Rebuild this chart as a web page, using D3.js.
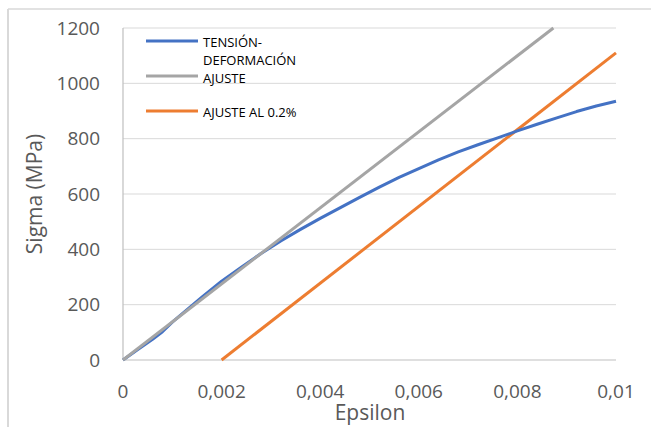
<!DOCTYPE html>
<html><head><meta charset="utf-8">
<script src="https://cdn.jsdelivr.net/npm/d3@7/dist/d3.min.js"></script>
<style>body{margin:0;background:#fff;}svg{display:block;font-family:"Open Sans",sans-serif;}</style>
</head><body><svg id="c" width="651" height="427"></svg>
<script>
const strainEps = [0,0.0003,0.0006,0.0008,0.001,0.0013,0.0016,0.002,0.0024,0.0028,0.0032,0.0036,0.004,0.0044,0.0048,0.0052,0.0056,0.006,0.0064,0.0068,0.0072,0.0076,0.008,0.0084,0.0088,0.0092,0.0096,0.01];
const strainSigma = [0,38,75,102,137,182,227,285,335,385,430,472,512,550,588,625,660,692,723,752,778,803,828,852,875,898,918,935];
const fitEps = [0,0.00873];
const fitSigma = [0,1200];
const offsetEps = [0.002,0.01];
const offsetSigma = [0,1110];
const seriesNames = ["TENSIÓN-\nDEFORMACIÓN","AJUSTE","AJUSTE AL 0.2%"];
const seriesColors = ["#4472C4","#A5A5A5","#ED7D31"];
const yTicks = [0,200,400,600,800,1000,1200];
const xTicks = [0,0.002,0.004,0.006,0.008,0.01];
const xTickLabels = ["0","0,002","0,004","0,006","0,008","0,01"];

const svg = d3.select("#c");
const L=123, R=616, T=28, B=360;
const x = d3.scaleLinear().domain([0,0.01]).range([L,R]);
const y = d3.scaleLinear().domain([0,1200]).range([B,T]);

// outer frame
svg.append("line").attr("x1",8).attr("x2",651).attr("y1",9).attr("y2",9).attr("stroke","#d9d9d9").attr("stroke-width",1.5);
svg.append("line").attr("x1",8).attr("x2",8).attr("y1",9).attr("y2",427).attr("stroke","#d9d9d9").attr("stroke-width",2);

// gridlines
svg.append("g").selectAll("line").data(yTicks.filter(d=>d>0)).join("line")
  .attr("x1",L).attr("x2",R).attr("y1",d=>y(d)).attr("y2",d=>y(d))
  .attr("stroke","#d9d9d9").attr("stroke-width",1);
// axes lines
svg.append("line").attr("x1",L).attr("x2",R).attr("y1",B).attr("y2",B).attr("stroke","#bfbfbf").attr("stroke-width",1.2);
svg.append("line").attr("x1",L).attr("x2",L).attr("y1",T).attr("y2",B).attr("stroke","#bfbfbf").attr("stroke-width",1.2);

// tick labels
svg.append("g").selectAll("text").data(yTicks).join("text")
  .attr("x",100).attr("y",d=>y(d)).attr("dy","0.35em").attr("text-anchor","end")
  .attr("font-size",19).attr("fill","#595959").text(d=>d);
svg.append("g").selectAll("text").data(xTicks).join("text")
  .attr("x",d=>x(d)).attr("y",398).attr("text-anchor","middle")
  .attr("font-size",19).attr("fill","#595959").text((d,i)=>xTickLabels[i]);

// titles
svg.append("text").attr("x",370).attr("y",420).attr("text-anchor","middle")
  .attr("font-size",21).attr("fill","#595959").text("Epsilon");
svg.append("text").attr("transform","translate(42,194) rotate(-90)").attr("text-anchor","middle")
  .attr("font-size",21).attr("fill","#595959").text("Sigma (MPa)");

// lines
const line = d3.line().x(d=>x(d[0])).y(d=>y(d[1]));
const series = [
  d3.zip(strainEps,strainSigma),
  d3.zip(fitEps,fitSigma),
  d3.zip(offsetEps,offsetSigma)
];
const order=[2,0,1];
order.forEach(i=>{
  svg.append("path").datum(series[i]).attr("d",line).attr("fill","none")
    .attr("stroke",seriesColors[i]).attr("stroke-width",3).attr("stroke-linejoin","round");
});

// legend
const legY=[41,76,111];
const textY=[[47,65],[83],[117]];
const lg = svg.append("g");
seriesNames.forEach((n,i)=>{
  lg.append("line").attr("x1",146).attr("x2",198).attr("y1",legY[i]).attr("y2",legY[i])
    .attr("stroke",seriesColors[i]).attr("stroke-width",3);
  const parts=n.split("\n");
  parts.forEach((p,j)=>{
    lg.append("text").attr("x",203).attr("y",textY[i][j]).attr("font-size",13)
      .attr("fill","#000").text(p);
  });
});
</script></body></html>
